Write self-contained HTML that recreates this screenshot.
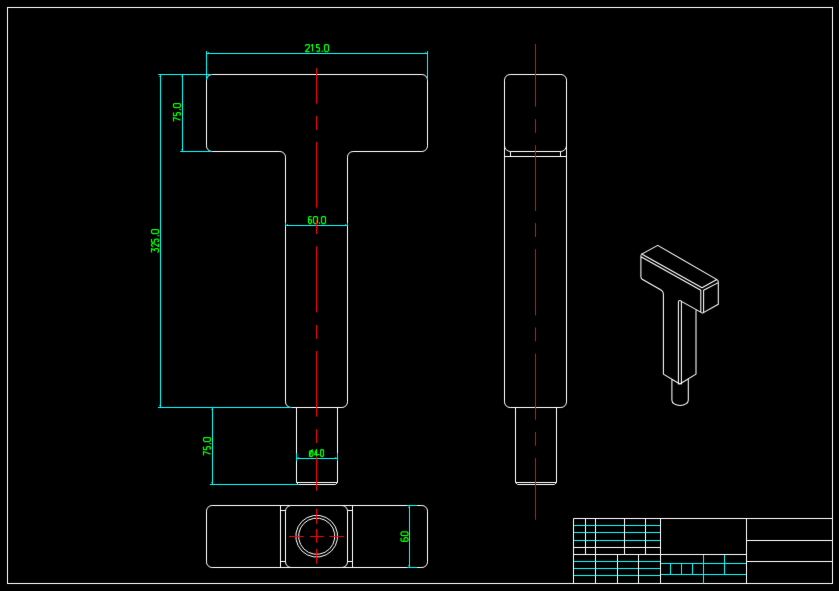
<!DOCTYPE html>
<html><head><meta charset="utf-8"><title>drawing</title>
<style>html,body{margin:0;padding:0;background:#000;overflow:hidden}body{width:839px;height:591px;font-family:"Liberation Sans",sans-serif}</style>
</head><body>
<svg width="839" height="591" viewBox="0 0 839 591" style="display:block">
<defs><filter id="bl" color-interpolation-filters="sRGB" x="0" y="0" width="839" height="591" filterUnits="userSpaceOnUse"><feConvolveMatrix order="3" kernelMatrix="0.00423 0.05655 0.00423 0.05655 0.75690 0.05655 0.00423 0.05655 0.00423" divisor="1" edgeMode="duplicate" preserveAlpha="true"/></filter></defs>
<rect width="839" height="591" fill="#000"/>
<g filter="url(#bl)">
<rect width="839" height="591" fill="#000"/>
<rect x="7.5" y="7.5" width="825" height="576" fill="none" stroke="#ffffff" stroke-width="1"/>
<line x1="573.5" y1="525.5" x2="660.5" y2="525.5" stroke="#00ffff" stroke-width="1" />
<line x1="573.5" y1="532.5" x2="660.5" y2="532.5" stroke="#00ffff" stroke-width="1" />
<line x1="573.5" y1="540.5" x2="660.5" y2="540.5" stroke="#00ffff" stroke-width="1" />
<line x1="573.5" y1="561.5" x2="660.5" y2="561.5" stroke="#00ffff" stroke-width="1" />
<line x1="573.5" y1="568.5" x2="660.5" y2="568.5" stroke="#00ffff" stroke-width="1" />
<line x1="573.5" y1="575.5" x2="660.5" y2="575.5" stroke="#00ffff" stroke-width="1" />
<line x1="660.5" y1="563.5" x2="746.5" y2="563.5" stroke="#00ffff" stroke-width="1" />
<line x1="660.5" y1="574.5" x2="746.5" y2="574.5" stroke="#00ffff" stroke-width="1" />
<line x1="670.5" y1="563.5" x2="670.5" y2="574.5" stroke="#00ffff" stroke-width="1" />
<line x1="681.5" y1="563.5" x2="681.5" y2="574.5" stroke="#00ffff" stroke-width="1" />
<line x1="692.5" y1="563.5" x2="692.5" y2="574.5" stroke="#00ffff" stroke-width="1" />
<line x1="703.5" y1="554.5" x2="703.5" y2="583.5" stroke="#00ffff" stroke-width="1" />
<line x1="724.5" y1="554.5" x2="724.5" y2="574.5" stroke="#00ffff" stroke-width="1" />
<line x1="573.5" y1="518.5" x2="832.5" y2="518.5" stroke="#ffffff" stroke-width="1" />
<line x1="573.5" y1="518.5" x2="573.5" y2="583.5" stroke="#ffffff" stroke-width="1" />
<line x1="585.5" y1="518.5" x2="585.5" y2="554.5" stroke="#ffffff" stroke-width="1" />
<line x1="595.5" y1="518.5" x2="595.5" y2="583.5" stroke="#ffffff" stroke-width="1" />
<line x1="624.5" y1="518.5" x2="624.5" y2="554.5" stroke="#ffffff" stroke-width="1" />
<line x1="645.5" y1="518.5" x2="645.5" y2="554.5" stroke="#ffffff" stroke-width="1" />
<line x1="660.5" y1="518.5" x2="660.5" y2="583.5" stroke="#ffffff" stroke-width="1" />
<line x1="746.5" y1="518.5" x2="746.5" y2="583.5" stroke="#ffffff" stroke-width="1" />
<line x1="573.5" y1="547.5" x2="660.5" y2="547.5" stroke="#ffffff" stroke-width="1" />
<line x1="573.5" y1="554.5" x2="746.5" y2="554.5" stroke="#ffffff" stroke-width="1" />
<line x1="617.5" y1="554.5" x2="617.5" y2="583.5" stroke="#ffffff" stroke-width="1" />
<line x1="638.5" y1="554.5" x2="638.5" y2="583.5" stroke="#ffffff" stroke-width="1" />
<line x1="746.5" y1="540.5" x2="832.5" y2="540.5" stroke="#ffffff" stroke-width="1" />
<line x1="746.5" y1="561.5" x2="832.5" y2="561.5" stroke="#ffffff" stroke-width="1" />
<path d="M212.1,74.5 H421.9 A5.6,5.6 0 0 1 427.5,80.1 V145.9 A5.6,5.6 0 0 1 421.9,151.5 H353.1 A5.6,5.6 0 0 0 347.5,157.1 V401.9 A5.6,5.6 0 0 1 341.9,407.5 H291.1 A5.6,5.6 0 0 1 285.5,401.9 V157.1 A5.6,5.6 0 0 0 279.9,151.5 H212.1 A5.6,5.6 0 0 1 206.5,145.9 V80.1 A5.6,5.6 0 0 1 212.1,74.5 Z" fill="none" stroke="#ffffff" stroke-width="1" />
<path d="M296.5,407.5 V482.5 L298.5,484.5 H335.5 L337.5,482.5 V407.5 M296.5,482.5 H337.5" fill="none" stroke="#ffffff" stroke-width="1" />
<path d="M510.1,74.5 H560.9 A5.6,5.6 0 0 1 566.5,80.1 V401.9 A5.6,5.6 0 0 1 560.9,407.5 H510.1 A5.6,5.6 0 0 1 504.5,401.9 V80.1 A5.6,5.6 0 0 1 510.1,74.5 Z" fill="none" stroke="#ffffff" stroke-width="1" />
<path d="M504.5,145.5 A6.0,6.0 0 0 0 510.5,151.5 H560.5 A6.0,6.0 0 0 0 566.5,145.5 M510.5,151.5 V156.5 M560.5,151.5 V156.5 M504.5,156.5 H566.5" fill="none" stroke="#ffffff" stroke-width="1" />
<path d="M515.5,407.5 V482.5 L517.5,484.5 H554.5 L556.5,482.5 V407.5 M515.5,482.5 H556.5" fill="none" stroke="#ffffff" stroke-width="1" />
<path d="M212.1,505.5 H421.9 A5.6,5.6 0 0 1 427.5,511.1 V561.9 A5.6,5.6 0 0 1 421.9,567.5 H212.1 A5.6,5.6 0 0 1 206.5,561.9 V511.1 A5.6,5.6 0 0 1 212.1,505.5 Z" fill="none" stroke="#ffffff" stroke-width="1" />
<path d="M291.1,505.5 H341.9 A5.6,5.6 0 0 1 347.5,511.1 V561.9 A5.6,5.6 0 0 1 341.9,567.5 H291.1 A5.6,5.6 0 0 1 285.5,561.9 V511.1 A5.6,5.6 0 0 1 291.1,505.5 Z" fill="none" stroke="#ffffff" stroke-width="1" />
<path d="M280.5,505.5 V567.5 M352.5,505.5 V567.5 M280.5,510.5 H285.5 M280.5,561.5 H285.5 M347.5,510.5 H352.5 M347.5,561.5 H352.5" fill="none" stroke="#ffffff" stroke-width="1" />
<path d="M337.34,539.47 L335.32,545.69 L331.48,550.98 L326.19,554.82 L319.97,556.84 L313.43,556.84 L307.21,554.82 L301.92,550.98 L298.08,545.69 L296.06,539.47 L296.06,532.93 L298.08,526.71 L301.92,521.42 L307.21,517.58 L313.43,515.56 L319.97,515.56 L326.19,517.58 L331.48,521.42 L335.32,526.71 L337.34,532.93 Z" fill="none" stroke="#ffffff" stroke-width="1" />
<path d="M334.58,539.03 L332.83,544.42 L329.50,549.00 L324.92,552.33 L319.53,554.08 L313.87,554.08 L308.48,552.33 L303.90,549.00 L300.57,544.42 L298.82,539.03 L298.82,533.37 L300.57,527.98 L303.90,523.40 L308.48,520.07 L313.87,518.32 L319.53,518.32 L324.92,520.07 L329.50,523.40 L332.83,527.98 L334.58,533.37 Z" fill="none" stroke="#ffffff" stroke-width="1" />
<line x1="206.5" y1="53.5" x2="427.5" y2="53.5" stroke="#00ffff" stroke-width="1" />
<line x1="206.5" y1="51.1" x2="206.5" y2="80" stroke="#00ffff" stroke-width="1" />
<line x1="427.5" y1="51.1" x2="427.5" y2="80" stroke="#00ffff" stroke-width="1" />
<path d="M207.70,53.10 L209.00,53.10 L209.00,52.00 L207.70,52.60 Z" fill="#00ffff" fill-opacity="0.85"/>
<path d="M426.30,53.10 L425.00,53.10 L425.00,52.00 L426.30,52.60 Z" fill="#00ffff" fill-opacity="0.85"/>
<line x1="160.5" y1="74.5" x2="160.5" y2="407.5" stroke="#00ffff" stroke-width="1" />
<line x1="158.2" y1="74.5" x2="211.8" y2="74.5" stroke="#00ffff" stroke-width="1" />
<line x1="158.0" y1="407.5" x2="291.6" y2="407.5" stroke="#00ffff" stroke-width="1" />
<path d="M160.10,75.70 L160.10,77.00 L159.00,77.00 L159.60,75.70 Z" fill="#00ffff" fill-opacity="0.85"/>
<path d="M160.10,406.30 L160.10,405.00 L159.00,405.00 L159.60,406.30 Z" fill="#00ffff" fill-opacity="0.85"/>
<line x1="182.5" y1="74.5" x2="182.5" y2="151.5" stroke="#00ffff" stroke-width="1" />
<line x1="180.1" y1="151.5" x2="211.8" y2="151.5" stroke="#00ffff" stroke-width="1" />
<path d="M182.10,75.70 L182.10,77.00 L181.00,77.00 L181.60,75.70 Z" fill="#00ffff" fill-opacity="0.85"/>
<path d="M182.10,150.30 L182.10,149.00 L181.00,149.00 L181.60,150.30 Z" fill="#00ffff" fill-opacity="0.85"/>
<line x1="212.5" y1="407.5" x2="212.5" y2="484.5" stroke="#00ffff" stroke-width="1" />
<line x1="209.9" y1="484.5" x2="298.9" y2="484.5" stroke="#00ffff" stroke-width="1" />
<path d="M212.10,408.70 L212.10,410.00 L211.00,410.00 L211.60,408.70 Z" fill="#00ffff" fill-opacity="0.85"/>
<path d="M212.10,483.30 L212.10,482.00 L211.00,482.00 L211.60,483.30 Z" fill="#00ffff" fill-opacity="0.85"/>
<line x1="285.5" y1="225.5" x2="347.5" y2="225.5" stroke="#00ffff" stroke-width="1" />
<line x1="285.5" y1="222.9" x2="285.5" y2="226.2" stroke="#00ffff" stroke-width="1" />
<line x1="347.5" y1="222.9" x2="347.5" y2="226.2" stroke="#00ffff" stroke-width="1" />
<path d="M286.70,225.10 L288.00,225.10 L288.00,224.00 L286.70,224.60 Z" fill="#00ffff" fill-opacity="0.85"/>
<path d="M346.30,225.10 L345.00,225.10 L345.00,224.00 L346.30,224.60 Z" fill="#00ffff" fill-opacity="0.85"/>
<line x1="296.5" y1="458.5" x2="337.5" y2="458.5" stroke="#00ffff" stroke-width="1" />
<line x1="296.5" y1="453" x2="296.5" y2="461" stroke="#00ffff" stroke-width="1" />
<line x1="337.5" y1="453" x2="337.5" y2="461" stroke="#00ffff" stroke-width="1" />
<path d="M297.70,458.10 L299.00,458.10 L299.00,457.00 L297.70,457.60 Z" fill="#00ffff" fill-opacity="0.85"/>
<path d="M336.30,458.10 L335.00,458.10 L335.00,457.00 L336.30,457.60 Z" fill="#00ffff" fill-opacity="0.85"/>
<line x1="409.5" y1="505.5" x2="409.5" y2="567.5" stroke="#00ffff" stroke-width="1" />
<line x1="407.2" y1="505.5" x2="417.1" y2="505.5" stroke="#00ffff" stroke-width="1" />
<line x1="407.2" y1="567.5" x2="417.1" y2="567.5" stroke="#00ffff" stroke-width="1" />
<path d="M409.10,506.70 L409.10,508.00 L408.00,508.00 L408.60,506.70 Z" fill="#00ffff" fill-opacity="0.85"/>
<path d="M409.10,566.30 L409.10,565.00 L408.00,565.00 L408.60,566.30 Z" fill="#00ffff" fill-opacity="0.85"/>
<g transform="translate(305.5,44.5)" fill="none" stroke="#00ff00" stroke-width="1.25" stroke-linecap="butt" stroke-linejoin="round"><path transform="translate(0.00,0) scale(1,1)" vector-effect="non-scaling-stroke" d="M0,1.7 V1 L1,0 H3 L4,1 V2.3 L0,7 H4"/><path transform="translate(6.00,0) scale(1,1)" vector-effect="non-scaling-stroke" d="M-0.3,1.3 L1,0 V7"/><path transform="translate(11.00,0) scale(1,1)" vector-effect="non-scaling-stroke" d="M3,0 H0 V3 H2 L3,4 V6 L2,7 H1 L0,6"/><path transform="translate(16.65,0) scale(1,1)" vector-effect="non-scaling-stroke" d="M0,5.9 V7.45"/><path transform="translate(19.00,0) scale(1,1)" vector-effect="non-scaling-stroke" d="M1,0 H3 L4,1 V6 L3,7 H1 L0,6 V1 Z"/></g>
<g transform="translate(308.5,216.5)" fill="none" stroke="#00ff00" stroke-width="1.25" stroke-linecap="butt" stroke-linejoin="round"><path transform="translate(0.00,0) scale(1,1)" vector-effect="non-scaling-stroke" d="M3,0 H1 L0,1 V6 L1,7 H2 L3,6 V4 L2,3 H0"/><path transform="translate(5.00,0) scale(1,1)" vector-effect="non-scaling-stroke" d="M1,0 H3 L4,1 V6 L3,7 H1 L0,6 V1 Z"/><path transform="translate(11.00,0) scale(1,1)" vector-effect="non-scaling-stroke" d="M0,5.9 V7.45"/><path transform="translate(13.00,0) scale(1,1)" vector-effect="non-scaling-stroke" d="M1,0 H3 L4,1 V6 L3,7 H1 L0,6 V1 Z"/></g>
<g transform="translate(309.5,449.5)" fill="none" stroke="#00ff00" stroke-width="1.25" stroke-linecap="butt" stroke-linejoin="round"><path transform="translate(0.00,0) scale(1,1)" vector-effect="non-scaling-stroke" d="M1.2,1 H2.2 L3.4,2.2 V5.8 L2.2,7 H1.2 L0,5.8 V2.2 Z M-0.3,7.3 L3.0,-0.3"/><path transform="translate(5.00,0) scale(1,1)" vector-effect="non-scaling-stroke" d="M2,7 V0 L0,5 H4.7"/><path transform="translate(11.00,0) scale(1,1)" vector-effect="non-scaling-stroke" d="M1,0 H2 L3,1 V6 L2,7 H1 L0,6 V1 Z"/></g>
<g transform="translate(173.5,121.5) rotate(-90)" fill="none" stroke="#00ff00" stroke-width="1.25" stroke-linecap="butt" stroke-linejoin="round"><path transform="translate(0.00,0) scale(1,1)" vector-effect="non-scaling-stroke" d="M0,0 H4 L1.3,7"/><path transform="translate(6.00,0) scale(1,1)" vector-effect="non-scaling-stroke" d="M3,0 H0 V3 H2 L3,4 V6 L2,7 H1 L0,6"/><path transform="translate(12.00,0) scale(1,1)" vector-effect="non-scaling-stroke" d="M0,5.9 V7.45"/><path transform="translate(14.00,0) scale(1,1)" vector-effect="non-scaling-stroke" d="M1,0 H3 L4,1 V6 L3,7 H1 L0,6 V1 Z"/></g>
<g transform="translate(151.5,252.5) rotate(-90)" fill="none" stroke="#00ff00" stroke-width="1.25" stroke-linecap="butt" stroke-linejoin="round"><path transform="translate(0.00,0) scale(1,1)" vector-effect="non-scaling-stroke" d="M0,0 H4 L2,3 H3 L4,4 V6 L3,7 H1 L0,6"/><path transform="translate(6.00,0) scale(1,1)" vector-effect="non-scaling-stroke" d="M0,1.7 V1 L1,0 H2 L3,1 V2.3 L0,7 H3"/><path transform="translate(10.50,0) scale(1,1)" vector-effect="non-scaling-stroke" d="M3,0 H0 V3 H2 L3,4 V6 L2,7 H1 L0,6"/><path transform="translate(17.00,0) scale(1,1)" vector-effect="non-scaling-stroke" d="M0,5.9 V7.45"/><path transform="translate(19.00,0) scale(1,1)" vector-effect="non-scaling-stroke" d="M1,0 H3 L4,1 V6 L3,7 H1 L0,6 V1 Z"/></g>
<g transform="translate(203.5,455.5) rotate(-90)" fill="none" stroke="#00ff00" stroke-width="1.25" stroke-linecap="butt" stroke-linejoin="round"><path transform="translate(0.00,0) scale(1,1)" vector-effect="non-scaling-stroke" d="M0,0 H4 L1.3,7"/><path transform="translate(6.00,0) scale(1,1)" vector-effect="non-scaling-stroke" d="M3,0 H0 V3 H2 L3,4 V6 L2,7 H1 L0,6"/><path transform="translate(12.00,0) scale(1,1)" vector-effect="non-scaling-stroke" d="M0,5.9 V7.45"/><path transform="translate(14.00,0) scale(1,1)" vector-effect="non-scaling-stroke" d="M1,0 H3 L4,1 V6 L3,7 H1 L0,6 V1 Z"/></g>
<g transform="translate(401.0,541.3) rotate(-90)" fill="none" stroke="#00ff00" stroke-width="1.25" stroke-linecap="butt" stroke-linejoin="round"><path transform="translate(0.00,0) scale(0.9,1)" vector-effect="non-scaling-stroke" d="M4,0 H1 L0,1 V6 L1,7 H3 L4,6 V4 L3,3 H0"/><path transform="translate(5.70,0) scale(0.9,1)" vector-effect="non-scaling-stroke" d="M1,0 H3 L4,1 V6 L3,7 H1 L0,6 V1 Z"/></g>
<line x1="316.5" y1="68.1" x2="316.5" y2="103.7" stroke="#ff0000" stroke-width="1" />
<line x1="316.5" y1="116.0" x2="316.5" y2="129.9" stroke="#ff0000" stroke-width="1" />
<line x1="316.5" y1="141.9" x2="316.5" y2="207.7" stroke="#ff0000" stroke-width="1" />
<line x1="316.5" y1="220.3" x2="316.5" y2="234.0" stroke="#ff0000" stroke-width="1" />
<line x1="316.5" y1="246.3" x2="316.5" y2="312.4" stroke="#ff0000" stroke-width="1" />
<line x1="316.5" y1="325.0" x2="316.5" y2="338.9" stroke="#ff0000" stroke-width="1" />
<line x1="316.5" y1="351.0" x2="316.5" y2="416.6" stroke="#ff0000" stroke-width="1" />
<line x1="316.5" y1="429.4" x2="316.5" y2="443.0" stroke="#ff0000" stroke-width="1" />
<line x1="316.5" y1="456.9" x2="316.5" y2="490.8" stroke="#ff0000" stroke-width="1" />
<line x1="535.5" y1="44.0" x2="535.5" y2="106.6" stroke="#ff0000" stroke-width="1" />
<line x1="535.5" y1="119.2" x2="535.5" y2="132.8" stroke="#ff0000" stroke-width="1" />
<line x1="535.5" y1="145.2" x2="535.5" y2="210.9" stroke="#ff0000" stroke-width="1" />
<line x1="535.5" y1="223.1" x2="535.5" y2="236.9" stroke="#ff0000" stroke-width="1" />
<line x1="535.5" y1="249.1" x2="535.5" y2="315.4" stroke="#ff0000" stroke-width="1" />
<line x1="535.5" y1="327.6" x2="535.5" y2="341.4" stroke="#ff0000" stroke-width="1" />
<line x1="535.5" y1="353.6" x2="535.5" y2="419.8" stroke="#ff0000" stroke-width="1" />
<line x1="535.5" y1="432.1" x2="535.5" y2="445.8" stroke="#ff0000" stroke-width="1" />
<line x1="535.5" y1="458.0" x2="535.5" y2="519.8" stroke="#ff0000" stroke-width="1" />
<line x1="289.1" y1="536.5" x2="303.7" y2="536.5" stroke="#ff0000" stroke-width="1" />
<line x1="310.0" y1="536.5" x2="323.8" y2="536.5" stroke="#ff0000" stroke-width="1" />
<line x1="329.3" y1="536.5" x2="343.9" y2="536.5" stroke="#ff0000" stroke-width="1" />
<line x1="316.5" y1="508.9" x2="316.5" y2="523.8" stroke="#ff0000" stroke-width="1" />
<line x1="316.5" y1="529.1" x2="316.5" y2="542.6" stroke="#ff0000" stroke-width="1" />
<line x1="316.5" y1="548.9" x2="316.5" y2="563.7" stroke="#ff0000" stroke-width="1" />
<path d="M641.3,254.4 L657.7,245.4 L717.0,279.6 M641.6,254.0 L702.0,287.7 L716.9,279.5 M641.0,256.7 L700.8,290.2 M703.6,290.2 L718.3,282.6 M640.9,255.6 L640.9,276.8 Q640.9,278.5 642.2,279.3 L661.0,290.0 Q663.4,291.4 663.4,294.1 L663.4,374.1 L679.8,384.0 L696.0,374.1 L696.0,310.6 M700.8,290.2 L700.8,312.0 M703.6,290.2 L703.6,312.6 M717.0,279.6 Q718.3,280.4 718.3,282.0 L718.3,304.2 L703.0,312.9 L702.0,312.9 L681.4,301.4 M678.4,384.0 L678.4,302.0 Q678.4,300.4 680.0,300.4 Q681.4,300.4 681.4,302.0 L681.4,384.0 M671.9,379.3 L671.9,400.2 A8.2,5.2 0 0 0 688.3,400.2 L688.3,379.0" fill="none" stroke="#ffffff" stroke-width="1.05" stroke-linejoin="round" stroke-linecap="round"/>
</g>
</svg>
</body></html>
